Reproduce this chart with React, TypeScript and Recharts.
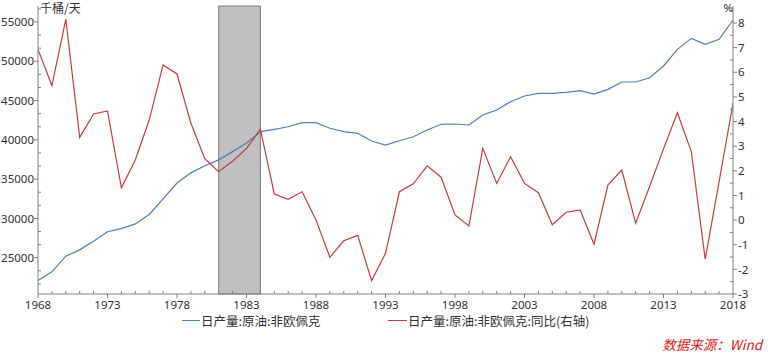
import React from 'react';
import { ComposedChart, Line, XAxis, YAxis, ReferenceArea } from 'recharts';

const years = [
  1968, 1969, 1970, 1971, 1972, 1973, 1974, 1975, 1976, 1977,
  1978, 1979, 1980, 1981, 1982, 1983, 1984, 1985, 1986, 1987,
  1988, 1989, 1990, 1991, 1992, 1993, 1994, 1995, 1996, 1997,
  1998, 1999, 2000, 2001, 2002, 2003, 2004, 2005, 2006, 2007,
  2008, 2009, 2010, 2011, 2012, 2013, 2014, 2015, 2016, 2017, 2018,
];

// 日产量:原油:非欧佩克 (千桶/天)
const production = [
  22100, 23200, 25200, 26000, 27100, 28300, 28700, 29300, 30500, 32500,
  34500, 35800, 36700, 37450, 38500, 39600, 41040, 41340, 41670, 42180,
  42180, 41470, 41040, 40830, 39850, 39340, 39890, 40400, 41250, 41980,
  42020, 41890, 43160, 43800, 44860, 45580, 45920, 45920, 46050, 46260,
  45830, 46430, 47360, 47360, 47910, 49400, 51520, 52920, 52160, 52800, 55250,
];

// 日产量:原油:非欧佩克:同比 (%)
const yoy = [
  6.93, 5.46, 8.15, 3.36, 4.31, 4.43, 1.31, 2.44, 4.06, 6.3,
  5.93, 3.93, 2.49, 1.96, 2.4, 2.9, 3.69, 1.06, 0.84, 1.15,
  0.0, -1.51, -0.84, -0.62, -2.46, -1.35, 1.15, 1.47, 2.2, 1.74,
  0.21, -0.24, 2.91, 1.49, 2.57, 1.49, 1.11, -0.19, 0.32, 0.41,
  -0.98, 1.42, 2.03, -0.13, 1.36, 2.89, 4.36, 2.78, -1.59, 1.56, 4.74,
];

const xTickLabels = [1968, 1973, 1978, 1983, 1988, 1993, 1998, 2003, 2008, 2013, 2018];
const leftTickLabels = [25000, 30000, 35000, 40000, 45000, 50000, 55000];
const rightTickLabels = [-3, -2, -1, 0, 1, 2, 3, 4, 5, 6, 7, 8];
const shadedYears = [1981, 1984];

const seriesNames = ['日产量:原油:非欧佩克', '日产量:原油:非欧佩克:同比(右轴)'];
const leftUnit = '千桶/天';
const rightUnit = '%';
const sourceText = '数据来源：Wind';

const leftDomain = [20380, 57036];
const rightDomain = [-3, 8.69];

const BLUE = '#4f7fbf';
const RED = '#cc3b3b';
const AXIS = '#808080';
const TEXT = '#333333';
const FONT = '"Noto Sans", "Open Sans", sans-serif';
const CJK = '"Noto Sans CJK SC", sans-serif';

const data = years.map((y, i) => ({ year: y, prod: production[i], yoy: yoy[i] }));

// minor tick positions (thirds between majors on left, halves on right)
const leftMinor: number[] = [];
for (let i = 0; i < leftTickLabels.length; i++) {
  const b = leftTickLabels[i];
  for (const k of [-2, -1, 1, 2]) {
    const v = b + (k * 5000) / 3;
    if (v > leftDomain[0] && v < leftDomain[1] && !leftMinor.some((m) => Math.abs(m - v) < 1)) leftMinor.push(v);
  }
}
const leftTicks = [...leftTickLabels, ...leftMinor].sort((a, b) => a - b);
const rightTicks: number[] = [];
rightTickLabels.forEach((v) => {
  rightTicks.push(v);
  if (v + 0.5 < rightDomain[1]) rightTicks.push(v + 0.5);
});

const LeftTick = (props: any) => {
  const { x, y, payload } = props;
  const v = payload.value;
  const major = leftTickLabels.some((m) => Math.abs(m - v) < 1);
  if (!major) {
    return <line x1={x} x2={x + 3} y1={y} y2={y} stroke={AXIS} strokeWidth={1} />;
  }
  return (
    <g>
      <line x1={x - 4} x2={x} y1={y} y2={y} stroke={AXIS} strokeWidth={1} />
      <text x={x - 4} y={y} dy="0.36em" textAnchor="end" fontSize={11.5} fontFamily={FONT} fill={TEXT}>
        {v}
      </text>
    </g>
  );
};

const RightTick = (props: any) => {
  const { x, y, payload } = props;
  const v = payload.value;
  const major = rightTickLabels.some((m) => Math.abs(m - v) < 0.01);
  if (!major) {
    return <line x1={x - 3} x2={x} y1={y} y2={y} stroke={AXIS} strokeWidth={1} />;
  }
  return (
    <g>
      <line x1={x} x2={x + 4} y1={y} y2={y} stroke={AXIS} strokeWidth={1} />
      <text x={x + 5} y={y} dy="0.36em" textAnchor="start" fontSize={11.5} fontFamily={FONT} fill={TEXT}>
        {v}
      </text>
    </g>
  );
};

const XTick = (props: any) => {
  const { x, y, payload } = props;
  const v = payload.value;
  const major = xTickLabels.includes(v);
  if (!major) {
    return <line x1={x} x2={x} y1={y} y2={y - 3} stroke={AXIS} strokeWidth={1} />;
  }
  return (
    <g>
      <line x1={x} x2={x} y1={y} y2={y + 4} stroke={AXIS} strokeWidth={1} />
      <text x={x} y={y + 14.5} textAnchor="middle" fontSize={11.5} fontFamily={FONT} fill={TEXT}>
        {v}
      </text>
    </g>
  );
};

const legendRow: React.CSSProperties = {
  position: 'absolute',
  top: 314,
  height: 13,
  lineHeight: '13px',
  display: 'flex',
  alignItems: 'center',
  fontSize: 12.5,
  fontFamily: CJK,
  color: TEXT,
  whiteSpace: 'nowrap',
};

const Swatch = ({ color, width }: { color: string; width: number }) => (
  <svg width={width} height={13} style={{ display: 'block', marginRight: 1 }}>
    <line x1={0} x2={width} y1={6.5} y2={6.5} stroke={color} strokeWidth={1} />
  </svg>
);

export default function App() {
  return (
    <div style={{ position: 'absolute', left: 0, top: 0, width: 768, height: 354, background: '#fff', overflow: 'hidden' }}>
      <ComposedChart width={768} height={354} data={data} margin={{ top: 6, right: 0, left: 0, bottom: 0 }}>
        <XAxis
          dataKey="year"
          type="number"
          domain={[1968, 2018]}
          ticks={years}
          interval={0}
          tick={XTick}
          tickLine={false}
          tickSize={0}
          tickMargin={0}
          height={60}
          stroke={AXIS}
          allowDataOverflow
        />
        <YAxis
          yAxisId="left"
          orientation="left"
          width={38}
          domain={leftDomain}
          ticks={leftTicks}
          interval={0}
          tick={LeftTick}
          tickLine={false}
          tickSize={0}
          tickMargin={0}
          stroke={AXIS}
          allowDataOverflow
        />
        <YAxis
          yAxisId="right"
          orientation="right"
          width={35}
          domain={rightDomain}
          ticks={rightTicks}
          interval={0}
          tick={RightTick}
          tickLine={false}
          tickSize={0}
          tickMargin={0}
          stroke={AXIS}
          allowDataOverflow
        />
        <ReferenceArea
          yAxisId="left"
          x1={shadedYears[0]}
          x2={shadedYears[1]}
          fill="#c0c0c0"
          fillOpacity={1}
          stroke="#7a7a7a"
          strokeWidth={1}
        />
        <Line
          yAxisId="left"
          type="linear"
          dataKey="prod"
          stroke={BLUE}
          strokeWidth={1.2}
          dot={false}
          isAnimationActive={false}
        />
        <Line
          yAxisId="right"
          type="linear"
          dataKey="yoy"
          stroke={RED}
          strokeWidth={1.2}
          dot={false}
          isAnimationActive={false}
        />
      </ComposedChart>
      <div style={{ position: 'absolute', left: 40, top: 1, fontSize: 12, fontFamily: CJK, color: TEXT, lineHeight: '13px', whiteSpace: 'nowrap' }}>
        {leftUnit}
      </div>
      <div style={{ position: 'absolute', right: 35, top: 1, fontSize: 11.5, fontFamily: FONT, color: TEXT, lineHeight: '13px' }}>
        {rightUnit}
      </div>
      <div style={{ ...legendRow, left: 182 }}>
        <Swatch color={BLUE} width={18} />
        <span>{seriesNames[0]}</span>
      </div>
      <div style={{ ...legendRow, left: 388 }}>
        <Swatch color={RED} width={19} />
        <span>{seriesNames[1]}</span>
      </div>
      <div style={{ position: 'absolute', right: 6, top: 337, fontSize: 13.5, fontStyle: 'italic', fontFamily: CJK, color: '#e02020', lineHeight: '15px', whiteSpace: 'nowrap' }}>
        {sourceText}
      </div>
    </div>
  );
}
